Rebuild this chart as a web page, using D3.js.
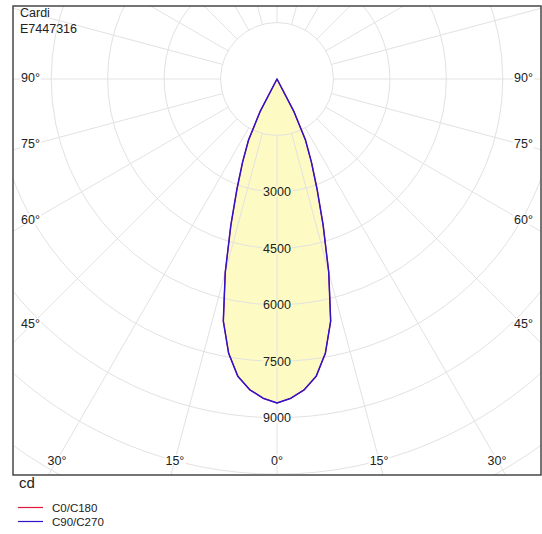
<!DOCTYPE html>
<html>
<head>
<meta charset="utf-8">
<script src="https://cdn.jsdelivr.net/npm/d3@7"></script>
<style>
  html, body { margin: 0; padding: 0; background: #fff; }
  svg { display: block; }
  text { font-family: "Liberation Sans", Arial, sans-serif; fill: #222; }
</style>
</head>
<body>
<svg id="chart" width="542" height="534"></svg>
<script>
// ---- data ----
const titleLines = ["Cardi", "E7447316"];
const unitLabel = "cd";
const gammaAngles = [0, 2.5, 5, 7.5, 10, 12.5, 15, 17.5, 20, 22.5, 25, 27.5, 30, 90];
const c0c180 = [8610, 8490, 8290, 7970, 7400, 6590, 5310, 4080, 3110, 2390, 1790, 960, 0, 0];
const c90c270 = [8610, 8490, 8290, 7970, 7400, 6590, 5310, 4080, 3110, 2390, 1790, 960, 0, 0];
const seriesNames = ["C0/C180", "C90/C270"];
const ringValues = [1500, 3000, 4500, 6000, 7500, 9000, 10500, 12000, 13500, 15000];
const ringLabels = [3000, 4500, 6000, 7500, 9000];
const angleLabels = [0, 15, 30, 45, 60, 75, 90];

// ---- layout ----
const svg = d3.select("#chart");
const frame = { x0: 13, y0: 6, x1: 541, y1: 475 };
const cx = 277, cy = 79;
const r = d3.scaleLinear().domain([0, 9000]).range([0, 338.7]);
const fillColor = "#fdfac3";
const gridColor = "#e2e2e2";
const seriesColors = ["#e2163a", "#3212c8"];
const seriesWidths = [1.1, 1.5];
const rad = g => g * Math.PI / 180;

svg.append("defs").append("clipPath").attr("id", "clip")
  .append("rect").attr("x", frame.x0).attr("y", frame.y0)
  .attr("width", frame.x1 - frame.x0).attr("height", frame.y1 - frame.y0);

const clipped = svg.append("g").attr("clip-path", "url(#clip)")
  .append("g").attr("transform", `translate(${cx},${cy})`);

// build closed polygon (C0 right, C180 left mirrored)
function buildPoints(vals) {
  const right = gammaAngles.map((g, i) => [Math.PI - rad(g), r(vals[i])]);
  const left = gammaAngles.map((g, i) => [Math.PI + rad(g), r(vals[i])]).reverse();
  return left.concat(right);
}
const radial = d3.lineRadial().angle(d => d[0]).radius(d => d[1]).curve(d3.curveLinearClosed);

// fill
clipped.append("path").attr("d", radial(buildPoints(c90c270)))
  .attr("fill", fillColor).attr("stroke", "none");

// grid rings
clipped.selectAll("circle.ring").data(ringValues).join("circle")
  .attr("class", "ring").attr("r", d => r(d))
  .attr("fill", "none").attr("stroke", gridColor).attr("stroke-width", 1);

// spokes
const spokes = d3.range(0, 360, 15);
clipped.selectAll("line.spoke").data(spokes).join("line")
  .attr("class", "spoke")
  .attr("x1", d => r(ringValues[0]) * Math.sin(rad(d)))
  .attr("y1", d => r(ringValues[0]) * Math.cos(rad(d)))
  .attr("x2", d => r(20000) * Math.sin(rad(d)))
  .attr("y2", d => r(20000) * Math.cos(rad(d)))
  .attr("stroke", gridColor).attr("stroke-width", 1);

// curves
[c0c180, c90c270].forEach((vals, i) => {
  clipped.append("path").attr("d", radial(buildPoints(vals)))
    .attr("fill", "none").attr("stroke", seriesColors[i]).attr("stroke-width", seriesWidths[i])
    .attr("stroke-linejoin", "round");
});

const plot = svg.append("g").attr("transform", `translate(${cx},${cy})`);

// helper: text with background rect
function labelWithBg(parent, x, y, txt, bg, size) {
  const g = parent.append("g");
  const rect = g.append("rect");
  const t = g.append("text").attr("x", x).attr("y", y + size * 0.36)
    .attr("text-anchor", "middle").attr("font-size", size).text(txt);
  const bb = t.node().getBBox();
  rect.attr("x", bb.x - 1).attr("y", y - size * 0.42).attr("width", bb.width + 2)
    .attr("height", size * 0.84).attr("fill", bg);
}

// intensity labels
const peak = c90c270[0];
ringLabels.forEach(v => {
  labelWithBg(plot, 0, r(v), String(v), v < peak ? fillColor : "#fff", 12.5);
});

// angle labels
const sideX = 246.5, bottomY = 460 - cy;
angleLabels.forEach(a => {
  const t = Math.tan(rad(a));
  const ySide = a === 90 ? 0 : sideX / t;
  if (a === 90 || ySide <= bottomY - 20) {
    [-1, 1].forEach(s => labelWithBg(plot, s * sideX, ySide - 2, a + "°", "#fff", 12.5));
  } else {
    const xb = bottomY * t;
    (a === 0 ? [1] : [-1, 1]).forEach(s => labelWithBg(plot, s * xb, bottomY, a + "°", "#fff", 12.5));
  }
});

// frame
svg.append("rect").attr("x", frame.x0).attr("y", frame.y0)
  .attr("width", frame.x1 - frame.x0).attr("height", frame.y1 - frame.y0)
  .attr("fill", "none").attr("stroke", "#3a3a3a").attr("stroke-width", 1.4);

// title
titleLines.forEach((s, i) => {
  svg.append("text").attr("x", 20).attr("y", 16.5 + i * 16).attr("font-size", 12.5).text(s);
});

// unit
svg.append("text").attr("x", 19).attr("y", 488).attr("font-size", 15).text(unitLabel);

// legend
seriesNames.forEach((s, i) => {
  const y = 507.5 + i * 14;
  svg.append("line").attr("x1", 18).attr("x2", 43).attr("y1", y).attr("y2", y)
    .attr("stroke", seriesColors[i]).attr("stroke-width", 1.2);
  svg.append("text").attr("x", 52).attr("y", y + 4).attr("font-size", 11.5).text(s);
});
</script>
</body>
</html>
